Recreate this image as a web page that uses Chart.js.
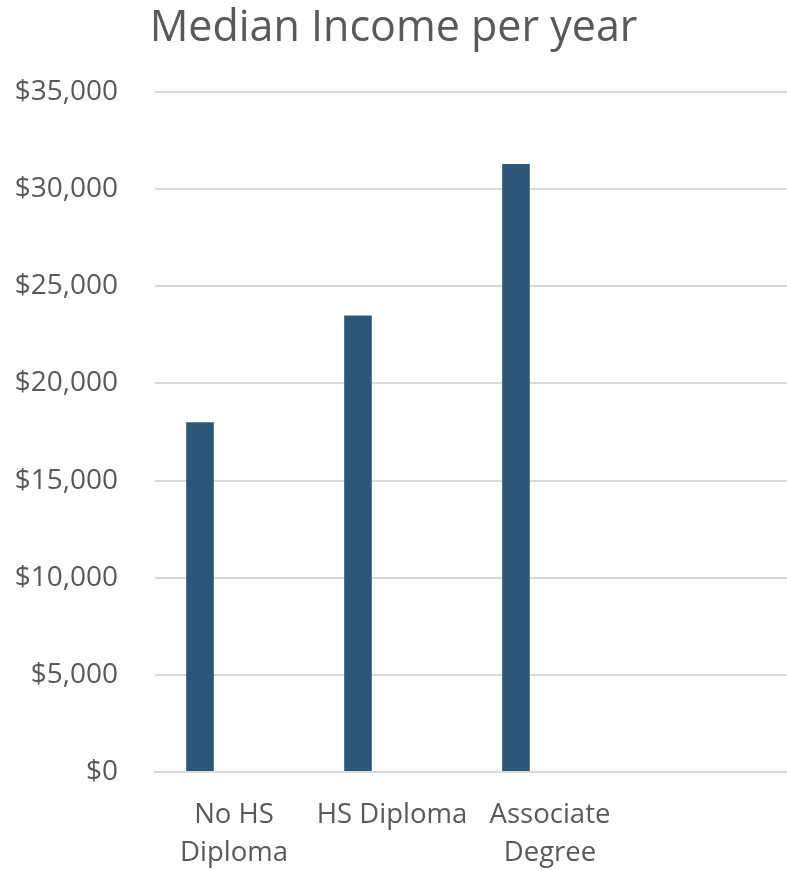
<!DOCTYPE html>
<html>
<head>
<meta charset="utf-8">
<script src="https://cdn.jsdelivr.net/npm/chart.js@4/dist/chart.umd.min.js"></script>
<style>
  html, body { margin: 0; padding: 0; background: #ffffff; }
  #wrap { width: 787px; height: 870px; position: relative; }
</style>
</head>
<body>
<div id="wrap"><canvas id="c"></canvas></div>
<script>
const categories = [["No HS", "Diploma"], "HS Diploma", ["Associate", "Degree"], ""];
const medianIncome = [18000, 23500, 31300, null];
// second (empty) series in the original chart: bars sit left of each category centre
const emptySeries = [null, null, null, null];
const yTicks = [0, 5000, 10000, 15000, 20000, 25000, 30000, 35000];
const chartTitle = "Median Income per year";

const textColor = "#595959";
const gridColor = "#d9d9d9";
const fontFamily = "'Open Sans', 'Liberation Sans', sans-serif";

new Chart(document.getElementById("c"), {
  type: "bar",
  data: {
    labels: categories,
    datasets: [{
      label: "Median Income",
      data: medianIncome,
      backgroundColor: "#2d5778",
      borderWidth: 0,
      barPercentage: 0.406,
      categoryPercentage: 0.861
    }, {
      label: "",
      data: emptySeries,
      backgroundColor: "#2d5778",
      borderWidth: 0,
      barPercentage: 0.406,
      categoryPercentage: 0.861
    }]
  },
  options: {
    responsive: true,
    maintainAspectRatio: false,
    animation: false,
    layout: { padding: 0 },
    plugins: {
      legend: { display: false },
      tooltip: { enabled: false },
      title: {
        display: true,
        text: chartTitle,
        color: textColor,
        font: { family: fontFamily, size: 43, weight: "normal", lineHeight: 1.2 },
        padding: { top: 3, bottom: 37.4 }
      }
    },
    scales: {
      x: {
        grid: { display: false, drawTicks: false },
        border: { display: true, color: gridColor, width: 2 },
        ticks: {
          color: textColor,
          font: { family: fontFamily, size: 27.5, lineHeight: 1.38 },
          padding: 24,
          maxRotation: 0,
          autoSkip: false
        },
        afterFit: (scale) => { scale.height = 98; }
      },
      y: {
        min: 0,
        max: 35000,
        afterBuildTicks: (scale) => { scale.ticks = yTicks.map(v => ({ value: v })); },
        grid: { color: gridColor, lineWidth: 2, drawTicks: false },
        border: { display: false },
        ticks: {
          color: textColor,
          font: { family: fontFamily, size: 28 },
          padding: 37,
          callback: (v) => "$" + Number(v).toLocaleString("en-US")
        },
        afterFit: (scale) => { scale.width = 155; }
      }
    }
  }
});
</script>
</body>
</html>
